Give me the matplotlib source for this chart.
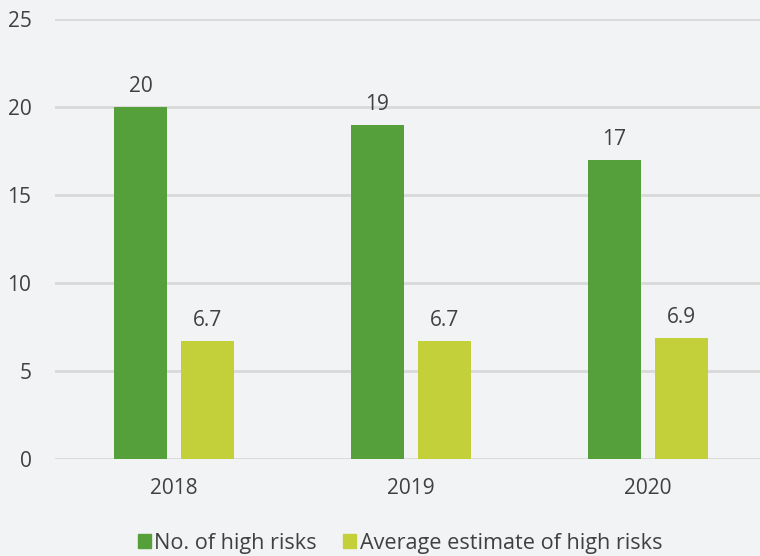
import matplotlib
matplotlib.use("Agg")
import matplotlib.pyplot as plt
from matplotlib.patches import Patch

years = ["2018", "2019", "2020"]
high_risks = [20, 19, 17]
avg_estimate = [6.7, 6.7, 6.9]
high_labels = ["20", "19", "17"]
avg_labels = ["6.7", "6.7", "6.9"]
yticks = [0, 5, 10, 15, 20, 25]

plt.rcParams['font.family'] = ['Open Sans', 'DejaVu Sans']
bg = "#f2f3f5"
green = "#55a03b"
lime = "#c4d03a"
txt = "#404040"
grid = "#d9d9d9"
fs = 15

fig = plt.figure(figsize=(7.6, 5.56), dpi=100, facecolor=bg)
ax = fig.add_axes([55/760, (556-459)/556, 705/760, (459-19)/556])
ax.set_facecolor(bg)

x = list(range(len(years)))
w = 53/237
off = 33.5/237
b1 = ax.bar([i - off for i in x], high_risks, width=w, color=green, zorder=3)
b2 = ax.bar([i + off for i in x], avg_estimate, width=w, color=lime, zorder=3)

for bars, labs in ((b1, high_labels), (b2, avg_labels)):
    for r, l in zip(bars, labs):
        ax.annotate(l, (r.get_x() + r.get_width()/2, r.get_height()),
                    xytext=(0, 7), textcoords="offset points",
                    ha="center", va="bottom", fontsize=fs, color=txt)

ax.set_xlim(-0.502, 2.4726)
ax.set_ylim(0, 25)
ax.set_yticks(yticks)
ax.set_yticklabels([str(v) for v in yticks])
ax.set_xticks(x)
ax.set_xticklabels(years)
ax.tick_params(axis='both', length=0, labelsize=fs, colors=txt)
ax.tick_params(axis='y', pad=17)
ax.tick_params(axis='x', pad=14)
ax.grid(axis='y', color=grid, linewidth=2, zorder=0)
for s in ax.spines.values():
    s.set_visible(False)

handles = [Patch(color=green, label="No. of high risks"),
           Patch(color=lime, label="Average estimate of high risks")]
fig.legend(handles=handles, loc="center", bbox_to_anchor=(400/760, 1 - 543/556),
           ncol=2, frameon=False, fontsize=15.6, labelcolor=txt,
           handlelength=0.62, handleheight=0.62, handletextpad=0.15,
           columnspacing=1.2, borderpad=0)

fig.savefig("out.png", dpi=100, facecolor=bg)
